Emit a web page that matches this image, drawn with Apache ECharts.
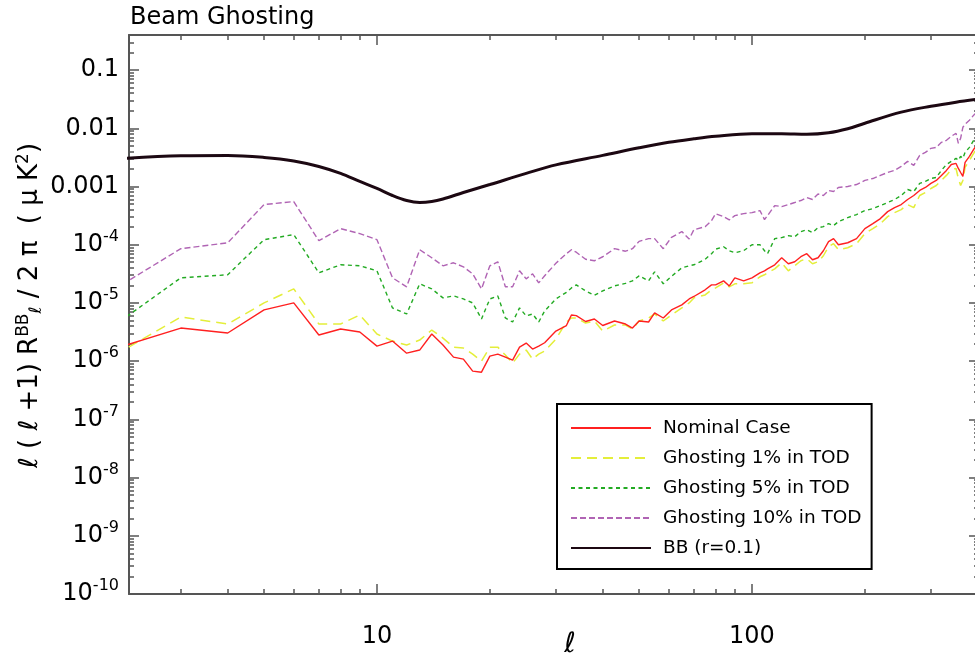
<!DOCTYPE html>
<html><head><meta charset="utf-8">
<script src="https://cdn.jsdelivr.net/npm/echarts@6/dist/echarts.min.js"></script>
<style>html,body{margin:0;padding:0;background:#fff}#c{width:975px;height:660px}</style>
</head><body><div id="c"></div>
<script>
// ---- data ----
const ell = [2,3,4,5,6,7,8,9,10,11,12,13,14,15,16,17,18,19,20,21,22,23,24,25,26,27,28,30,32,33,34,36,38,40,43,46,48,50,53,55,58,61,65,68,70,75,78,80,84,87,90,95,100,105,108,110,115,120,125,130,135,140,145,150,155,160,165,170,180,190,200,210,220,230,240,250,260,270,280,290,300,310,320,330,340,350,355,360,365,370,380,390,400];
const nominal = [1.64e-6,3.7e-6,3.04e-6,7.58e-6,1.0e-5,2.81e-6,3.56e-6,3.16e-6,1.81e-6,2.21e-6,1.37e-6,1.55e-6,2.92e-6,1.89e-6,1.17e-6,1.08e-6,6.73e-7,6.46e-7,1.22e-6,1.32e-6,1.17e-6,1.04e-6,1.74e-6,2.04e-6,1.61e-6,1.81e-6,2.07e-6,
3.29e-6,4.09e-6,6.21e-6,6.04e-6,4.79e-6,5.3e-6,4.09e-6,4.89e-6,4.34e-6,3.7e-6,
4.89e-6,4.7e-6,6.73e-6,5.51e-6,7.58e-6,9.24e-6,1.17e-5,1.29e-5,1.68e-5,2.04e-5,
2.04e-5,2.39e-5,1.96e-5,2.7e-5,
2.39e-5,2.7e-5,3.29e-5,3.56e-5,3.85e-5,4.52e-5,5.97e-5,4.7e-5,5.09e-5,6.21e-5,
7.0e-5,5.51e-5,5.97e-5,7.88e-5,1.13e-4,1.27e-4,1.0e-4,
1.08e-4,1.27e-4,1.89e-4,2.3e-4,2.81e-4,3.7e-4,4.34e-4,4.89e-4,5.97e-4,7.0e-4,8.54e-4,9.62e-4,1.13e-3,1.27e-3,1.55e-3,1.89e-3,2.39e-3,2.49e-3,
2.04e-3,1.74e-3,1.49e-3,2.59e-3,3.29e-3,4.34e-3,5.51e-3];
const ghost1 = [1.27e-6,5.74e-6,4.34e-6,1.0e-5,1.74e-5,4.34e-6,4.34e-6,6.21e-6,2.92e-6,2.21e-6,1.89e-6,2.3e-6,3.42e-6,2.49e-6,1.74e-6,1.68e-6,1.32e-6,1.0e-6,1.74e-6,1.74e-6,1.27e-6,9.24e-7,1.32e-6,1.55e-6,1.08e-6,1.32e-6,1.49e-6,
2.39e-6,4.7e-6,5.51e-6,5.51e-6,4.52e-6,4.89e-6,3.29e-6,4.17e-6,4.17e-6,3.56e-6,
4.89e-6,5.51e-6,6.46e-6,4.89e-6,6.21e-6,8.2e-6,1.0e-5,1.22e-5,1.37e-5,1.68e-5,
1.81e-5,2.21e-5,1.89e-5,2.13e-5,
2.13e-5,2.21e-5,2.81e-5,3.04e-5,3.29e-5,3.85e-5,4.89e-5,3.56e-5,4.34e-5,5.3e-5,
5.74e-5,4.7e-5,5.09e-5,6.46e-5,9.24e-5,1.04e-4,8.2e-5,
8.88e-5,1.04e-4,1.55e-4,1.89e-4,2.3e-4,3.04e-4,3.56e-4,4.01e-4,4.89e-4,4.34e-4,7.0e-4,7.88e-4,9.24e-4,1.04e-3,1.27e-3,1.55e-3,1.96e-3,2.04e-3,
1.37e-3,1.04e-3,1.27e-3,2.13e-3,2.81e-3,3.7e-3,4.7e-3];
const ghost5 = [4.17e-6,2.7e-5,3.04e-5,1.22e-4,1.49e-4,3.29e-5,4.52e-5,4.34e-5,3.56e-5,8.2e-6,6.46e-6,2.13e-5,1.74e-5,1.22e-5,1.32e-5,1.17e-5,1.0e-5,5.3e-6,1.17e-5,1.32e-5,5.51e-6,4.7e-6,8.2e-6,5.97e-6,6.46e-6,4.7e-6,7.28e-6,
1.17e-5,1.52e-5,1.81e-5,2.04e-5,1.61e-5,1.35e-5,1.61e-5,1.96e-5,2.17e-5,2.39e-5,
2.92e-5,2.39e-5,3.42e-5,2.13e-5,2.86e-5,4.01e-5,4.34e-5,4.52e-5,5.62e-5,7.0e-5,
8.37e-5,9.24e-5,7.88e-5,7.28e-5,
7.88e-5,1.0e-4,1.0e-4,7.88e-5,7.0e-5,1.27e-4,1.32e-4,1.43e-4,1.37e-4,1.68e-4,
1.81e-4,1.61e-4,1.96e-4,2.04e-4,2.3e-4,2.13e-4,2.49e-4,
2.92e-4,3.29e-4,3.85e-4,4.17e-4,4.7e-4,5.3e-4,5.97e-4,7.0e-4,8.88e-4,8.2e-4,1.13e-3,1.22e-3,1.37e-3,1.43e-3,1.89e-3,2.39e-3,2.7e-3,3.04e-3,
2.81e-3,3.29e-3,3.04e-3,3.85e-3,4.7e-3,6.21e-3,7.88e-3];
const ghost10 = [1.74e-5,8.54e-5,1.08e-4,4.89e-4,5.51e-4,1.17e-4,1.89e-4,1.55e-4,1.22e-4,2.7e-5,1.89e-5,8.2e-5,5.97e-5,4.34e-5,4.89e-5,4.17e-5,3.16e-5,1.74e-5,4.34e-5,5.09e-5,1.89e-5,1.89e-5,3.56e-5,2.59e-5,3.16e-5,2.21e-5,2.92e-5,
4.8e-5,7.0e-5,8.2e-5,7.43e-5,5.62e-5,5.3e-5,6.21e-5,8.54e-5,7.73e-5,8.54e-5,
1.14e-4,1.27e-4,1.27e-4,8.54e-5,1.34e-4,1.68e-4,1.25e-4,1.81e-4,2.04e-4,2.59e-4,
3.4e-4,3.04e-4,2.67e-4,3.16e-4,
3.42e-4,3.56e-4,3.85e-4,2.7e-4,3.16e-4,4.7e-4,4.52e-4,4.89e-4,5.3e-4,5.74e-4,
6.46e-4,5.97e-4,7.43e-4,7.0e-4,8.54e-4,8.2e-4,9.62e-4,
1.0e-3,1.08e-3,1.27e-3,1.37e-3,1.55e-3,1.74e-3,1.89e-3,2.21e-3,2.7e-3,2.3e-3,3.42e-3,3.85e-3,4.52e-3,4.7e-3,5.74e-3,6.21e-3,7.28e-3,8.2e-3,
5.51e-3,6.73e-3,1.04e-2,1.17e-2,1.37e-2,1.68e-2,1.96e-2];
const bbEll = [2,3,4,5,6,7,8,9,10,11,12,13,14,15,17,20,25,30,40,50,60,70,80,100,120,140,160,180,200,250,300,350,400];
const bbPower = [2.98e-3,3.36e-3,3.42e-3,3.16e-3,2.75e-3,2.21e-3,1.68e-3,1.22e-3,9.24e-4,7.0e-4,5.74e-4,5.3e-4,5.5e-4,6.09e-4,7.88e-4,1.08e-3,1.68e-3,2.35e-3,3.42e-3,4.61e-3,5.74e-3,6.59e-3,7.28e-3,8.04e-3,8.04e-3,7.88e-3,8.36e-3,9.8e-3,1.22e-2,1.89e-2,2.39e-2,2.81e-2,3.16e-2];
const seriesNames = ['Nominal Case','Ghosting 1% in TOD','Ghosting 5% in TOD','Ghosting 10% in TOD','BB (r=0.1)'];
// axis ranges and ticks
const xRange = [2.182, 403];
const yRange = [1e-10, 0.4];
const xMajorTicks = [10, 100];
const xMinorTicks = [3,4,5,6,7,8,9,20,30,40,50,60,70,80,90,200,300,400];
const yMajorTicks = [1e-10,1e-9,1e-8,1e-7,1e-6,1e-5,1e-4,1e-3,1e-2,1e-1];
const yMinorFactors = [2,3,4,5,6,7,8,9];

// ---- chart ----
const lg = Math.log10;
const FONT = 'DejaVu Sans';
const AX = '#555';
const yMinorTicks = [];
yMajorTicks.forEach(d => yMinorFactors.forEach(k => { const v = d * k; if (v <= yRange[1] * 1.0001) yMinorTicks.push(v); }));

function tickAxis(pos, range, major, minor, showLine, labelOpts, extra) {
  const a = {
    type: 'value', position: pos, min: lg(range[0]), max: lg(range[1]),
    axisLine: { show: showLine, onZero: false, lineStyle: { color: AX, width: 2 } },
    axisTick: { show: true, inside: true, length: major ? 10 : 5,
      customValues: (major || minor).map(lg), lineStyle: { color: AX, width: 1.5 } },
    axisLabel: labelOpts || { show: false },
    splitLine: { show: false }
  };
  return Object.assign(a, extra || {});
}

const xLabel = {
  show: true, customValues: xMajorTicks.map(lg), margin: 31,
  formatter: v => String(Math.round(Math.pow(10, v))),
  fontFamily: FONT, fontSize: 24, color: '#000'
};
const yLabel = {
  show: true, customValues: yMajorTicks.map(lg), margin: 10,
  formatter: v => { const e = Math.round(v); return e >= -3 ? '{n|' + Math.pow(10, e).toFixed(-e) + '}' : '{n|10}{s|' + e + '}'; },
  rich: {
    n: { fontFamily: FONT, fontSize: 24, color: '#000', lineHeight: 32 },
    s: { fontFamily: FONT, fontSize: 16, color: '#000', verticalAlign: 'top', lineHeight: 18 }
  }
};

const option = {
  animation: false,
  backgroundColor: '#fff',
  title: { text: 'Beam Ghosting', left: 130, top: 6, padding: 0,
    textStyle: { fontFamily: FONT, fontSize: 24, fontWeight: 'normal', color: '#000' } },
  grid: { left: 129, top: 35, width: 850, height: 559, outerBoundsMode: 'none', containLabel: false },
  legend: {
    data: seriesNames, orient: 'vertical', left: 557, top: 404,
    padding: [14, 10, 11, 13], itemGap: 10, itemWidth: 80, itemHeight: 14,
    borderColor: '#000', borderWidth: 2, borderRadius: 0, backgroundColor: '#fff',
    itemStyle: { opacity: 0 },
    textStyle: { fontFamily: FONT, fontSize: 18.5, color: '#000', lineHeight: 20, padding: [0, 0, 0, 7] }
  },
  xAxis: [
    { type: 'log', logBase: 10, min: xRange[0], max: xRange[1], show: false },
    tickAxis('bottom', xRange, xMajorTicks, null, true, xLabel,
      { name: 'ℓ', nameLocation: 'middle', nameGap: 37, nameMoveOverlap: false,
        nameTextStyle: { fontFamily: FONT, fontSize: 28, color: '#000', padding: [0, 0, 0, 32] } }),
    tickAxis('bottom', xRange, null, xMinorTicks, false),
    tickAxis('top', xRange, xMajorTicks, null, true),
    tickAxis('top', xRange, null, xMinorTicks, false)
  ],
  yAxis: [
    { type: 'log', logBase: 10, min: yRange[0], max: yRange[1], show: false },
    tickAxis('left', yRange, yMajorTicks, null, true, yLabel,
      { name: '{n|ℓ ( ℓ +1) R}{s|BB}{b|ℓ}{n| / 2 π  ( μ K}{s|2}{n|)}',
        nameLocation: 'middle', nameGap: 84, nameRotate: 90, nameMoveOverlap: false,
        nameTextStyle: { padding: [0, 0, 0, 18], rich: {
          n: { fontFamily: FONT, fontSize: 26, color: '#000', lineHeight: 30 },
          s: { fontFamily: FONT, fontSize: 17, color: '#000', verticalAlign: 'top', lineHeight: 18 },
          b: { fontFamily: FONT, fontSize: 17, color: '#000', verticalAlign: 'bottom', lineHeight: 18 }
        } } }),
    tickAxis('left', yRange, null, yMinorTicks, false),
    tickAxis('right', yRange, yMajorTicks, null, true),
    tickAxis('right', yRange, null, yMinorTicks, false)
  ],
  series: [
    { name: seriesNames[4], type: 'line', xAxisIndex: 0, yAxisIndex: 0, symbol: 'none', smooth: 0.35,
      lineStyle: { color: '#1c0812', width: 3 }, itemStyle: { color: '#1c0812' },
      data: bbEll.map((l, i) => [l, bbPower[i]]) },
    { name: seriesNames[3], type: 'line', xAxisIndex: 0, yAxisIndex: 0, symbol: 'none',
      lineStyle: { color: '#b064b4', width: 1.4, type: [6, 3] }, itemStyle: { color: '#b064b4' },
      data: ell.map((l, i) => [l, ghost10[i]]) },
    { name: seriesNames[2], type: 'line', xAxisIndex: 0, yAxisIndex: 0, symbol: 'none',
      lineStyle: { color: '#22aa22', width: 1.4, type: [4, 3.5] }, itemStyle: { color: '#22aa22' },
      data: ell.map((l, i) => [l, ghost5[i]]) },
    { name: seriesNames[1], type: 'line', xAxisIndex: 0, yAxisIndex: 0, symbol: 'none',
      lineStyle: { color: '#e4ee3a', width: 1.5, type: [10, 6] }, itemStyle: { color: '#e4ee3a' },
      data: ell.map((l, i) => [l, ghost1[i]]) },
    { name: seriesNames[0], type: 'line', xAxisIndex: 0, yAxisIndex: 0, symbol: 'none',
      lineStyle: { color: '#ff2020', width: 1.4 }, itemStyle: { color: '#ff2020' },
      data: ell.map((l, i) => [l, nominal[i]]) }
  ]
};
const chart = echarts.init(document.getElementById('c'), null, { renderer: 'canvas' });
chart.setOption(option);
</script></body></html>
